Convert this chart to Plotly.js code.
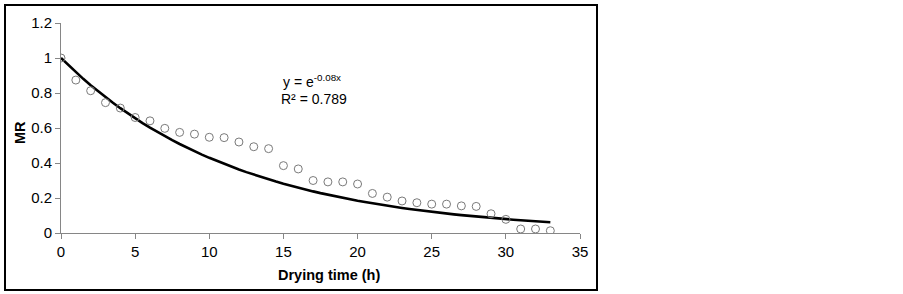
<!DOCTYPE html>
<html>
<head>
<meta charset="utf-8">
<script src="https://cdn.plot.ly/plotly-3.0.1.min.js"></script>
<style>html,body{margin:0;padding:0;background:#fff;}#chart{width:903px;height:294px;}</style>
</head>
<body>
<div id="chart"></div>
<script>
// Observed moisture ratio vs drying time
const dryingTime = [0,1,2,3,4,5,6,7,8,9,10,11,12,13,14,15,16,17,18,19,20,21,22,23,24,25,26,27,28,29,30,31,32,33];
const moistureRatio = [1.0,0.874,0.813,0.745,0.714,0.66,0.641,0.598,0.575,0.565,0.547,0.545,0.52,0.493,0.482,0.385,0.366,0.30,0.292,0.292,0.28,0.226,0.205,0.183,0.173,0.165,0.165,0.155,0.152,0.11,0.078,0.023,0.023,0.013];
// Exponential trendline of the chart (label rounds the exponent to -0.08)
const trendK = 0.0845;
const trendX = [];
for (let i = 0; i <= 66; i++) trendX.push(i * 0.5);
const trendY = trendX.map(x => Math.exp(-trendK * x));
const xTicks = [0,5,10,15,20,25,30,35];
const yTicks = [0,0.2,0.4,0.6,0.8,1,1.2];
const yTickText = ['0','0.2','0.4','0.6','0.8','1','1.2'];

const L = 61, R = 580, T = 23, B = 233, W = 903, H = 294;
const px = v => (v - L) / (R - L);
const py = v => (B - v) / (B - T);

const data = [
  {x: trendX, y: trendY, mode: 'lines', line: {color: '#000', width: 2.6}, hoverinfo: 'skip'},
  {x: dryingTime, y: moistureRatio, mode: 'markers',
   marker: {symbol: 'circle-open', size: 8, color: '#7a7a7a', line: {width: 1, color: '#7a7a7a'}}}
];
const FF = 'Liberation Sans, Arial, sans-serif';
const axisFont = {family: FF, size: 15, color: '#000'};
const layout = {
  width: W, height: H,
  margin: {l: L, r: W - R, t: T, b: H - B, pad: 0},
  paper_bgcolor: '#fff', plot_bgcolor: '#fff',
  showlegend: false,
  xaxis: {range: [0, 35], tickvals: xTicks, ticktext: xTicks.map(String), showgrid: false, zeroline: false,
    showline: true, linecolor: '#868686', linewidth: 1, ticks: 'outside', ticklen: 5, tickcolor: '#868686',
    tickfont: axisFont, fixedrange: true},
  yaxis: {range: [0, 1.2], tickvals: yTicks, ticktext: yTickText, showgrid: false, zeroline: false,
    showline: true, linecolor: '#868686', linewidth: 1, ticks: 'outside', ticklen: 5, tickcolor: '#868686',
    tickfont: axisFont, fixedrange: true},
  shapes: [
    {type: 'rect', xref: 'paper', yref: 'paper', x0: px(5), x1: px(597), y0: py(290), y1: py(5),
     line: {color: '#000', width: 2}, fillcolor: 'rgba(0,0,0,0)', layer: 'below'}
  ],
  annotations: [
    {xref: 'paper', yref: 'paper', x: px(329), y: py(275), text: '<b>Drying time (h)</b>', showarrow: false,
     font: {family: FF, size: 14.5, color: '#000'}, xanchor: 'center', yanchor: 'middle'},
    {xref: 'paper', yref: 'paper', x: px(20), y: py(133), text: '<b>MR</b>', showarrow: false, textangle: -90,
     font: {family: FF, size: 14.5, color: '#000'}, xanchor: 'center', yanchor: 'middle'},
    {xref: 'paper', yref: 'paper', x: px(281), y: py(92), text: 'y = e<sup>-0.08x</sup>', showarrow: false,
     font: {family: FF, size: 14, color: '#000'}, xanchor: 'left', yanchor: 'bottom'},
    {xref: 'paper', yref: 'paper', x: px(279), y: py(89), text: 'R² = 0.789', showarrow: false,
     font: {family: FF, size: 14, color: '#000'}, xanchor: 'left', yanchor: 'top'}
  ]
};
Plotly.newPlot('chart', data, layout, {displayModeBar: false, staticPlot: true});
</script>
</body>
</html>
